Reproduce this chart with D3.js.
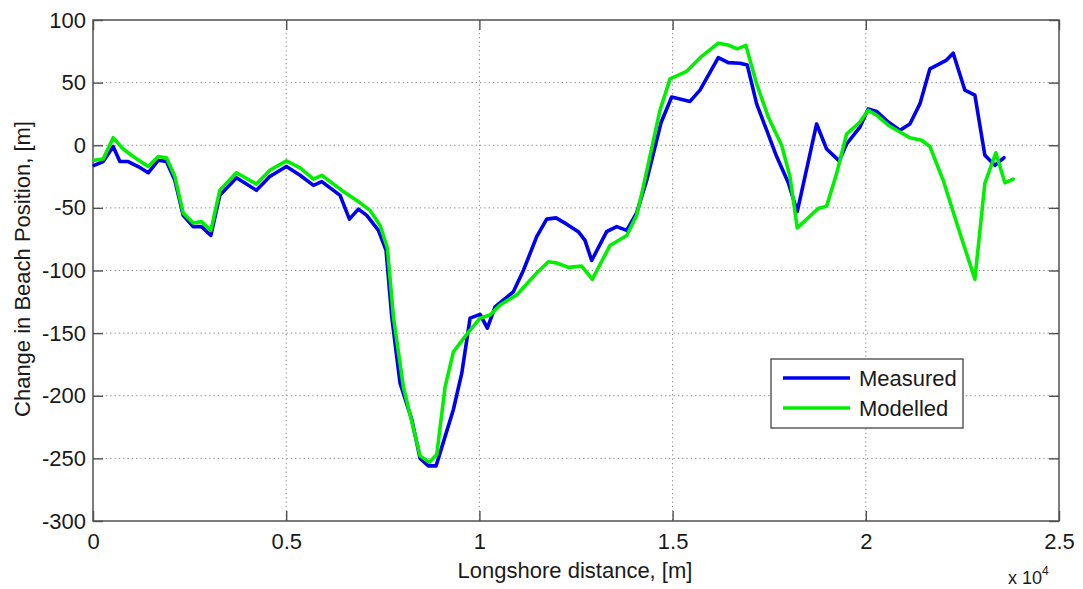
<!DOCTYPE html>
<html lang="en">
<head>
    <meta charset="UTF-8">
    <title>Change in Beach Position</title>
    <script src="https://d3js.org/d3.v7.min.js"></script>
    <style>
        body { margin: 0; background: #fff; }
        text { font-family: "Liberation Sans", Arial, sans-serif; fill: #1a1a1a; }
    </style>
</head>
<body>
    <svg width="1083" height="589"></svg>

    <script>
        // longshore distance [m] and change in beach position [m]
        const measuredX = [31, 264, 522, 695, 910, 1170, 1428, 1687, 1902, 2118, 2334, 2592, 2807, 3050, 3282,
            3713, 4230, 4576, 5006, 5360, 5705, 5921, 6395, 6636, 6869, 7085, 7386, 7585, 7732, 7947, 8250,
            8465, 8680, 8879, 9327, 9544, 9759, 10017, 10206, 10405, 10879, 11137, 11483, 11742, 11983, 12259,
            12560, 12733, 12906, 13294, 13553, 13812, 14071, 14330, 14700, 14976, 15450, 15708, 16183, 16441,
            16743, 16933, 17175, 17434, 17693, 17995, 18226, 18727, 18986, 19312, 19503, 19848, 20063, 20280,
            20580, 20883, 21141, 21400, 21659, 22090, 22262, 22564, 22823, 23081, 23340, 23573];
        const measuredY = [-16, -13, -1, -13, -13, -17, -22, -12, -13, -28, -56, -65, -65, -72, -40,
            -26, -36, -25, -17, -24, -32, -29, -40, -59, -51, -56, -68, -84, -137, -190, -219,
            -250, -256, -256, -211, -182, -138, -135, -146, -129, -117, -100, -73, -59, -58, -63,
            -69, -76, -92, -69, -65, -68, -54, -28, 18, 38.5, 35, 44, 70, 66,
            65.5, 64, 33, 12, -9, -30, -53, 17, -3, -12.5, 1, 14.5, 29, 27,
            18.5, 12, 17, 33, 61, 68, 73.5, 44, 40, -8, -16, -10];

        const modelledX = [31, 264, 522, 781, 1040, 1428, 1687, 1902, 2118, 2334, 2592, 2807, 3050, 3282,
            3713, 4230, 4576, 5006, 5360, 5705, 5921, 6481, 6912, 7171, 7430, 7619, 7775, 8033, 8465, 8706,
            8896, 9112, 9327, 9672, 10017, 10276, 10534, 10966, 11483, 11785, 12001, 12302, 12647, 12922,
            13381, 13812, 14071, 14242, 14674, 14933, 15364, 15752, 16183, 16441, 16674, 16898, 17175, 17476,
            17822, 18037, 18226, 18770, 18986, 19245, 19503, 19848, 20063, 20280, 20580, 21141, 21443, 21659,
            22003, 22435, 22823, 23081, 23366, 23599, 23814];
        const modelledY = [-12, -11, 6, -3, -9, -17, -9, -10, -25, -54, -62, -61, -68, -36,
            -22, -31, -20, -12.5, -18, -27, -24, -37, -46, -52, -64, -82, -137, -193, -248, -253,
            -247, -193, -165, -151, -138, -135.5, -127.5, -119.5, -102, -93, -94, -97.5, -96.5, -107,
            -80, -72, -56, -33, 28, 53, 59, 71, 81.5, 80, 77, 79.7, 49, 22.5,
            0, -25, -66, -50.5, -48.6, -22.5, 9, 18.5, 28, 24, 16, 6, 4, -1,
            -28, -70, -107, -30.5, -6, -30, -27];

        const xTicks = [0, 5000, 10000, 15000, 20000, 25000];
        const yTicks = [-300, -250, -200, -150, -100, -50, 0, 50, 100];
        const seriesNames = ["Measured", "Modelled"];
        const seriesColors = ["#0000f0", "#00f000"];

        const svg = d3.select("svg");
        const plotLeft = 93, plotRight = 1059, plotTop = 20, plotBottom = 521;
        const axisColor = "#505050";

        const x = d3.scaleLinear().domain([0, 25000]).range([plotLeft, plotRight]);
        const y = d3.scaleLinear().domain([-300, 100]).range([plotBottom, plotTop]);

        // dotted grid
        svg.append("g").selectAll("line")
            .data(xTicks.slice(1, -1))
            .enter().append("line")
            .attr("x1", d => x(d)).attr("x2", d => x(d))
            .attr("y1", plotTop).attr("y2", plotBottom)
            .attr("stroke", "#8a8a8a").attr("stroke-dasharray", "1.3,3");
        svg.append("g").selectAll("line")
            .data(yTicks.slice(1, -1))
            .enter().append("line")
            .attr("y1", d => y(d)).attr("y2", d => y(d))
            .attr("x1", plotLeft).attr("x2", plotRight)
            .attr("stroke", "#8a8a8a").attr("stroke-dasharray", "1.3,3");

        // axes (matlab style, ticks pointing in)
        const axisStyle = g => {
            g.select(".domain").remove();
            g.selectAll(".tick line").attr("stroke", axisColor).attr("stroke-width", 1.4);
            g.selectAll(".tick text").style("font-size", "22px")
                .style("font-family", "'Liberation Sans', Arial, sans-serif").attr("fill", "#1a1a1a");
        };
        svg.append("g").attr("transform", `translate(0,${plotBottom})`)
            .call(d3.axisBottom(x).tickValues(xTicks).tickFormat(d => String(d / 10000)).tickSizeInner(-10).tickPadding(12))
            .call(axisStyle);
        svg.append("g").attr("transform", `translate(0,${plotTop})`)
            .call(d3.axisTop(x).tickValues(xTicks).tickFormat("").tickSizeInner(-10))
            .call(axisStyle);
        svg.append("g").attr("transform", `translate(${plotLeft},0)`)
            .call(d3.axisLeft(y).tickValues(yTicks).tickFormat(d => String(d)).tickSizeInner(-10).tickPadding(7))
            .call(axisStyle);
        svg.append("g").attr("transform", `translate(${plotRight},0)`)
            .call(d3.axisRight(y).tickValues(yTicks).tickFormat("").tickSizeInner(-10))
            .call(axisStyle);

        svg.append("rect")
            .attr("x", plotLeft).attr("y", plotTop)
            .attr("width", plotRight - plotLeft).attr("height", plotBottom - plotTop)
            .attr("fill", "none").attr("stroke", axisColor).attr("stroke-width", 1.5);

        // the two lines
        const line = d3.line().x(d => x(d[0])).y(d => y(d[1]));
        const series = [
            d3.zip(measuredX, measuredY),
            d3.zip(modelledX, modelledY)
        ];
        svg.append("g").selectAll("path")
            .data(series)
            .enter().append("path")
            .attr("d", line)
            .attr("fill", "none")
            .attr("stroke", (d, i) => seriesColors[i])
            .attr("stroke-width", 3.6)
            .attr("stroke-linejoin", "round")
            .attr("stroke-linecap", "round");

        // axis titles
        svg.append("text")
            .attr("x", 575).attr("y", 578)
            .attr("text-anchor", "middle")
            .style("font-size", "22px")
            .text("Longshore distance, [m]");
        svg.append("text")
            .attr("transform", `translate(30,269) rotate(-90)`)
            .attr("text-anchor", "middle")
            .style("font-size", "22px")
            .text("Change in Beach Position, [m]");

        const expo = svg.append("text").attr("x", 1008).attr("y", 584).style("font-size", "18px");
        expo.append("tspan").text("x 10");
        expo.append("tspan").attr("dy", -9).style("font-size", "12px").text("4");

        // legend
        const legend = svg.append("g").attr("transform", "translate(771,359)");
        legend.append("rect")
            .attr("width", 192).attr("height", 69)
            .attr("fill", "#fff").attr("stroke", axisColor).attr("stroke-width", 1.4);
        seriesNames.forEach((name, i) => {
            legend.append("line")
                .attr("x1", 12).attr("x2", 79)
                .attr("y1", 19 + i * 30).attr("y2", 19 + i * 30)
                .attr("stroke", seriesColors[i]).attr("stroke-width", 3.6);
            legend.append("text")
                .attr("x", 88).attr("y", 27 + i * 30)
                .style("font-size", "22px")
                .text(name);
        });
    </script>
</body>
</html>
